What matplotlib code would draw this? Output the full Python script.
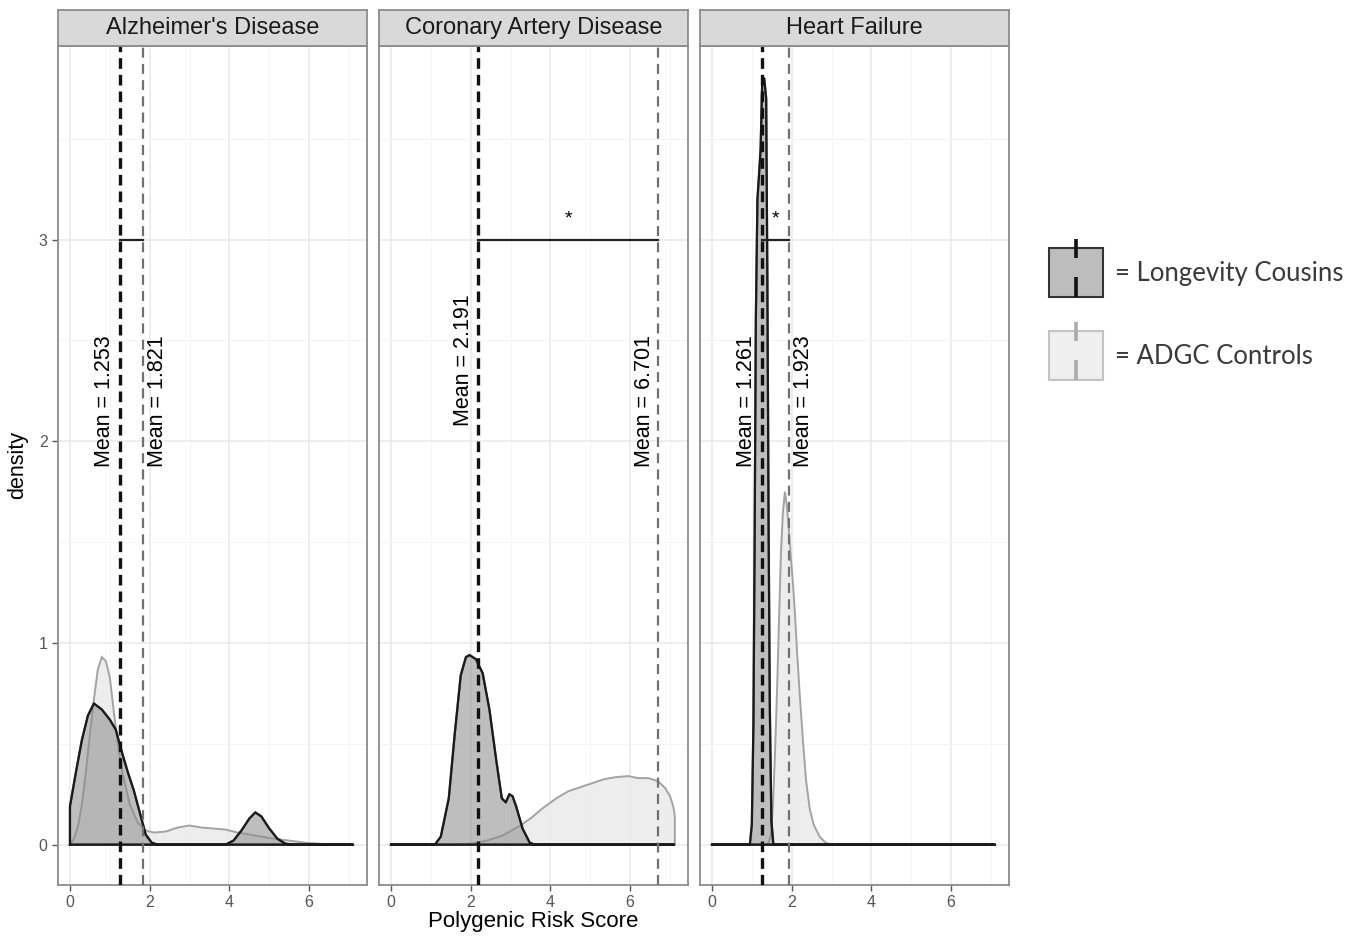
import numpy as np
import matplotlib.pyplot as plt
from matplotlib.patches import Rectangle

plt.rcParams['font.family'] = ['Liberation Sans', 'DejaVu Sans']

# --- data ---
panels = ["Alzheimer's Disease", "Coronary Artery Disease", "Heart Failure"]

ad_cous_x = [0, 0.15, 0.3, 0.45, 0.6, 0.8, 1.0, 1.15, 1.3, 1.45, 1.6, 1.75, 1.9, 2.05, 2.2,
             3.9, 4.1, 4.3, 4.5, 4.65, 4.8, 5.0, 5.2, 5.4, 5.6, 7.1]
ad_cous_y = [0.19, 0.36, 0.52, 0.64, 0.70, 0.67, 0.62, 0.57, 0.46, 0.36, 0.27, 0.16, 0.05, 0.01, 0,
             0, 0.02, 0.07, 0.13, 0.16, 0.14, 0.08, 0.03, 0.005, 0, 0]
ad_ctrl_x = [0, 0.1, 0.2, 0.3, 0.4, 0.5, 0.6, 0.7, 0.8, 0.9, 1.0, 1.1, 1.2, 1.3, 1.5, 1.7, 1.9,
             2.1, 2.4, 2.7, 3.0, 3.3, 3.6, 3.9, 4.2, 4.5, 4.8, 5.1, 5.5, 5.9, 6.3, 6.7, 7.1]
ad_ctrl_y = [0, 0.03, 0.09, 0.2, 0.36, 0.55, 0.72, 0.87, 0.93, 0.91, 0.83, 0.66, 0.5, 0.37, 0.2,
             0.11, 0.07, 0.06, 0.065, 0.085, 0.095, 0.085, 0.08, 0.075, 0.06, 0.05, 0.04, 0.03,
             0.02, 0.01, 0.004, 0.001, 0]

cad_cous_x = [0, 1.1, 1.25, 1.45, 1.6, 1.75, 1.88, 1.97, 2.05, 2.13, 2.3, 2.47, 2.64, 2.78, 2.88,
              2.97, 3.05, 3.14, 3.3, 3.48, 3.6, 7.1]
cad_cous_y = [0, 0, 0.04, 0.23, 0.55, 0.84, 0.93, 0.94, 0.93, 0.92, 0.85, 0.67, 0.42, 0.23, 0.21,
              0.25, 0.24, 0.19, 0.08, 0.01, 0, 0]
cad_ctrl_x = [0, 1.5, 2.0, 2.4, 2.8, 3.2, 3.5, 3.8, 4.15, 4.45, 4.75, 5.05, 5.35, 5.65, 5.95, 6.2,
              6.45, 6.7, 6.88, 7.0, 7.08, 7.12]
cad_ctrl_y = [0, 0, 0.005, 0.02, 0.045, 0.09, 0.13, 0.18, 0.23, 0.265, 0.285, 0.305, 0.325, 0.335,
              0.34, 0.33, 0.33, 0.315, 0.28, 0.24, 0.19, 0.14]

hf_cous_x = [0, 0.95, 1.0, 1.04, 1.07, 1.1, 1.14, 1.18, 1.22, 1.26, 1.31, 1.36, 1.39, 1.42, 1.45,
             1.49, 1.54, 7.1]
hf_cous_y = [0, 0, 0.1, 0.6, 1.5, 2.6, 3.2, 3.32, 3.45, 3.78, 3.8, 3.7, 2.8, 1.6, 0.7, 0.12, 0, 0]
hf_ctrl_x = [0, 1.4, 1.48, 1.53, 1.58, 1.63, 1.68, 1.73, 1.78, 1.83, 1.88, 1.93, 1.98, 2.03, 2.08,
             2.13, 2.2, 2.28, 2.36, 2.45, 2.55, 2.7, 2.85, 3.0, 7.1]
hf_ctrl_y = [0, 0, 0.05, 0.2, 0.45, 0.75, 1.1, 1.45, 1.65, 1.75, 1.68, 1.56, 1.42, 1.3, 1.15, 0.97,
             0.75, 0.52, 0.32, 0.18, 0.1, 0.04, 0.01, 0, 0]

cousins = [(ad_cous_x, ad_cous_y), (cad_cous_x, cad_cous_y), (hf_cous_x, hf_cous_y)]
controls = [(ad_ctrl_x, ad_ctrl_y), (cad_ctrl_x, cad_ctrl_y), (hf_ctrl_x, hf_ctrl_y)]

mean_cous = [1.253, 2.191, 1.261]
mean_ctrl = [1.821, 6.701, 1.923]
significant = [False, True, True]

# label placement (x offset from line, y centre)
lab_cous = [(-0.38, 2.2), (-0.37, 2.4), (-0.39, 2.2)]
lab_ctrl = [(0.38, 2.2), (-0.33, 2.2), (0.38, 2.2)]

# --- figure ---
W, H = 1363, 936
fig = plt.figure(figsize=(W / 100, H / 100), dpi=100)

panel_left = [58, 379, 700]
panel_w = 309
p_top, p_bot = 46, 885
strip_top = 10

edge_grey = '#8c8c8c'

for i, name in enumerate(panels):
    l = panel_left[i]
    ax = fig.add_axes([l / W, (H - p_bot) / H, panel_w / W, (p_bot - p_top) / H])
    ax.set_xlim(-0.3, 7.45)
    ax.set_ylim(-0.2, 3.96)

    ax.set_xticks([0, 2, 4, 6])
    ax.set_xticks([1, 3, 5, 7], minor=True)
    ax.set_yticks([0, 1, 2, 3])
    ax.set_yticks([0.5, 1.5, 2.5, 3.5], minor=True)
    ax.grid(True, which='major', color='#ebebeb', lw=1.2, zorder=0)
    ax.grid(True, which='minor', color='#f4f4f4', lw=0.7, zorder=0)
    ax.set_axisbelow(True)
    ax.tick_params(which='minor', length=0)
    ax.tick_params(which='major', length=4, width=1, color='#555555',
                   labelsize=11.5, labelcolor='#555555')
    if i > 0:
        ax.tick_params(axis='y', which='major', length=0, labelleft=False)
    for s in ax.spines.values():
        s.set_color(edge_grey)
        s.set_linewidth(1.3)

    # controls (light) first, then cousins (dark)
    cx, cy = controls[i]
    ax.fill(np.r_[cx[0], cx, cx[-1]], np.r_[0, cy, 0], facecolor='#ebebeb',
            edgecolor='#9a9a9a', lw=1.4, alpha=0.9, zorder=2)
    kx, ky = cousins[i]
    ax.fill(np.r_[kx[0], kx, kx[-1]], np.r_[0, ky, 0], facecolor='#8a8a8a',
            edgecolor='#1a1a1a', lw=1.6, alpha=0.55, zorder=3)
    ax.plot(np.r_[kx[0], kx, kx[-1], kx[0]], np.r_[0, ky, 0, 0], color='#1a1a1a',
            lw=1.6, zorder=4)

    # mean lines
    ax.axvline(mean_ctrl[i], color='#707070', lw=1.6, ls=(0, (4.5, 2.8)), zorder=5)
    ax.axvline(mean_cous[i], color='#111111', lw=2.4, ls=(0, (3.2, 1.8)), zorder=6)

    dx, yc = lab_cous[i]
    ax.text(mean_cous[i] + dx, yc, f'Mean = {mean_cous[i]:.3f}', rotation=90,
            ha='center', va='center', fontsize=15.5, color='black', zorder=7)
    dx, yc = lab_ctrl[i]
    ax.text(mean_ctrl[i] + dx, yc, f'Mean = {mean_ctrl[i]:.3f}', rotation=90,
            ha='center', va='center', fontsize=15.5, color='black', zorder=7)

    # comparison bar
    ax.plot([mean_cous[i], mean_ctrl[i]], [3, 3], color='#222222', lw=1.6, zorder=6)
    if significant[i]:
        ax.text((mean_cous[i] + mean_ctrl[i]) / 2, 3.1, '*', ha='center', va='center',
                fontsize=14, color='black', zorder=7)

    if i == 0:
        ax.set_ylabel('density', fontsize=15.5, color='black', va='center')
        ax.yaxis.set_label_coords(-40 / panel_w, 0.5)
    if i == 1:
        ax.set_xlabel('Polygenic Risk Score', fontsize=16, color='black', va='center')
        ax.xaxis.set_label_coords(0.5, -36 / (p_bot - p_top))

    # facet strip
    sax = fig.add_axes([l / W, (H - p_top) / H, panel_w / W, (p_top - strip_top) / H])
    sax.set_facecolor('#d9d9d9')
    sax.set_xticks([])
    sax.set_yticks([])
    for s in sax.spines.values():
        s.set_color(edge_grey)
        s.set_linewidth(1.3)
    sax.text(0.5, 0.5, name, ha='center', va='center', fontsize=17, color='#1a1a1a',
             transform=sax.transAxes)

# --- legend drawn in pixel space ---
lax = fig.add_axes([0, 0, 1, 1], zorder=10)
lax.set_xlim(0, W)
lax.set_ylim(H, 0)
lax.axis('off')
lax.patch.set_alpha(0)

leg_items = ['= Longevity Cousins', '= ADGC Controls']
leg_fill = ['#bdbdbd', '#efefef']
leg_edge = ['#333333', '#c4c4c4']
leg_line = ['#111111', '#ababab']
leg_top = [248, 331]

for k, lab in enumerate(leg_items):
    t = leg_top[k]
    lax.add_patch(Rectangle((1049, t), 54, 49, facecolor=leg_fill[k], edgecolor=leg_edge[k],
                            lw=1.5))
    lax.plot([1076, 1076], [t - 9, t + 10], color=leg_line[k], lw=2.6, solid_capstyle='butt')
    lax.plot([1076, 1076], [t + 29, t + 49], color=leg_line[k], lw=2.6, solid_capstyle='butt')
    lax.text(1115, t + 25, lab, ha='left', va='center', fontsize=18.5, color='#3a3a3a',
             family=['Lato', 'DejaVu Sans'])

fig.savefig('out.png', dpi=100)
